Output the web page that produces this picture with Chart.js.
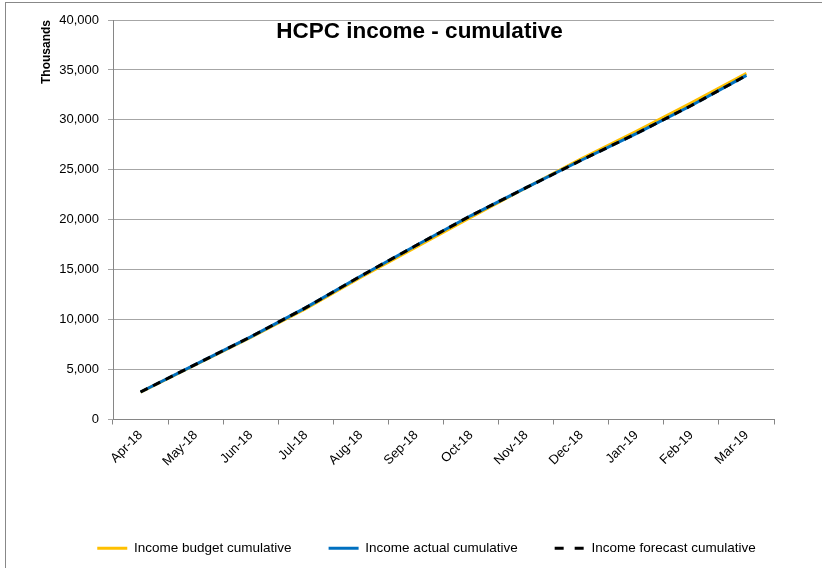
<!DOCTYPE html>
<html>
<head>
<meta charset="utf-8">
<script src="https://cdn.jsdelivr.net/npm/chart.js@4.4.0/dist/chart.umd.min.js"></script>
<style>
  html, body { margin: 0; padding: 0; background: #fff; overflow: hidden; }
  #frame { position: absolute; left: 5px; top: 2px; width: 840px; height: 590px; border: 1px solid #888; }
  #myChart { position: absolute; left: 0; top: 0; }
</style>
</head>
<body>
<div id="frame"></div>
<canvas id="myChart" width="822" height="568"></canvas>
<script>
const months = ['Apr-18', 'May-18', 'Jun-18', 'Jul-18', 'Aug-18', 'Sep-18', 'Oct-18', 'Nov-18', 'Dec-18', 'Jan-19', 'Feb-19', 'Mar-19'];
const budget = [2750, 5480, 8220, 11100, 14250, 17250, 20250, 23200, 26100, 28850, 31700, 34650];
const actual = [2750, 5520, 8280, 11200, 14370, 17420, 20420, 23210, 25960, 28620, 31440, 34450];
const forecast = [2750, 5520, 8280, 11200, 14370, 17420, 20420, 23210, 25960, 28620, 31440, 34450];

const fontFamily = "'Liberation Sans', Arial, sans-serif";

// title sits inside the plot area, like the spreadsheet chart
const titlePlugin = {
    id: 'titleInside',
    afterDraw: (chart) => {
        const ctx = chart.ctx;
        ctx.save();
        ctx.font = 'bold 22.5px ' + fontFamily;
        ctx.fillStyle = '#000';
        ctx.textAlign = 'center';
        ctx.textBaseline = 'middle';
        ctx.fillText('HCPC income - cumulative', 419.5, 32);
        ctx.restore();
    }
};

const ctx = document.getElementById('myChart').getContext('2d');
const myChart = new Chart(ctx, {
    type: 'line',
    data: {
        labels: months,
        datasets: [{
            label: 'Income budget cumulative',
            data: budget,
            borderColor: '#FFC000',
            backgroundColor: '#FFC000',
            borderWidth: 3,
            order: 3
        }, {
            label: 'Income actual cumulative',
            data: actual,
            borderColor: '#0070C0',
            backgroundColor: '#0070C0',
            borderWidth: 3,
            order: 2
        }, {
            label: 'Income forecast cumulative',
            data: forecast,
            borderColor: '#000000',
            backgroundColor: '#000000',
            borderWidth: 3,
            borderDash: [8, 6],
            order: 1
        }]
    },
    options: {
        responsive: false,
        animation: false,
        devicePixelRatio: 1,
        elements: {
            point: { radius: 0, hoverRadius: 0 },
            line: { tension: 0, borderCapStyle: 'butt' }
        },
        layout: { padding: { left: 31, right: 0, top: 20, bottom: 3 } },
        plugins: {
            tooltip: { enabled: false },
            title: { display: false },
            legend: {
                position: 'bottom',
                labels: {
                    usePointStyle: true,
                    pointStyle: 'line',
                    pointStyleWidth: 30,
                    padding: 37,
                    color: '#000',
                    font: { family: fontFamily, size: 13.5 },
                    sort: (a, b) => a.datasetIndex - b.datasetIndex,
                    generateLabels: (chart) => {
                        const items = Chart.defaults.plugins.legend.labels.generateLabels(chart);
                        items.forEach(item => {
                            const ds = chart.data.datasets[item.datasetIndex];
                            item.lineDash = ds.borderDash ? [9, 11] : [];
                            item.strokeStyle = ds.borderColor;
                            item.lineWidth = ds.borderWidth;
                        });
                        return items;
                    }
                }
            }
        },
        scales: {
            x: {
                offset: true,
                grid: {
                    offset: true,
                    drawOnChartArea: false,
                    drawTicks: true,
                    tickLength: 5,
                    color: '#868686'
                },
                border: { color: '#868686' },
                ticks: {
                    maxRotation: 45,
                    minRotation: 45,
                    autoSkip: false,
                    padding: 3,
                    color: '#000',
                    font: { family: fontFamily, size: 13 }
                },
                afterFit: (scale) => { scale.height = 85; }
            },
            y: {
                min: 0,
                max: 40000,
                grid: {
                    color: '#a6a6a6',
                    tickLength: 5
                },
                border: { color: '#868686' },
                ticks: {
                    stepSize: 5000,
                    padding: 9,
                    color: '#000',
                    font: { family: fontFamily, size: 13 }
                },
                title: {
                    display: true,
                    text: 'Thousands',
                    align: 'end',
                    color: '#000',
                    font: { family: fontFamily, size: 12, weight: 'bold' },
                    padding: { top: 8, bottom: 4 }
                },
                afterFit: (scale) => { scale.width = 82; }
            },
            yRight: {
                position: 'right',
                display: true,
                grid: { display: false, drawTicks: false },
                border: { display: false },
                ticks: { display: false },
                afterFit: (scale) => { scale.width = 48; }
            }
        }
    },
    plugins: [titlePlugin]
});
</script>
</body>
</html>
